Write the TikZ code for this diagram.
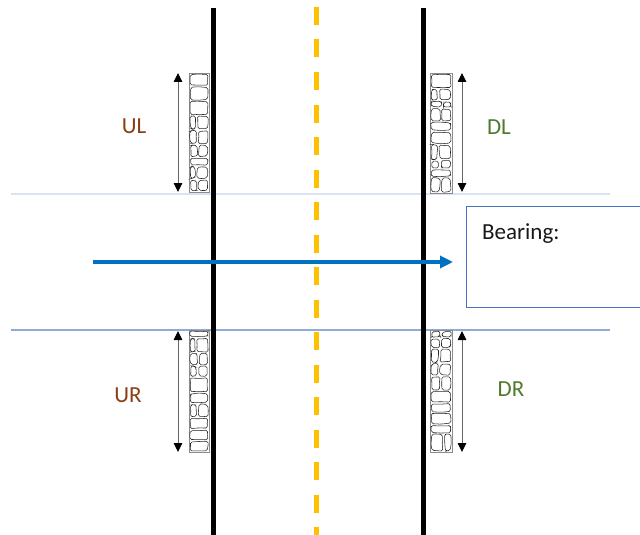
\documentclass[tikz,border=0pt]{standalone}
\usepackage{fontspec}
\setmainfont{Carlito}
\usetikzlibrary{arrows.meta}

\definecolor{roadyellow}{HTML}{FFC000}
\definecolor{flowblue}{HTML}{0070C0}
\definecolor{boxblue}{HTML}{4472C4}
\definecolor{paleblue}{HTML}{DAE3F3}
\definecolor{midblue}{HTML}{8FAADC}
\definecolor{upbrown}{HTML}{8B3E12}
\definecolor{downgreen}{HTML}{4F7A2E}

\tikzset{
  roadline/.style={line width=4.5pt, black},
  centreline/.style={line width=4.5pt, roadyellow, dash pattern=on 18pt off 14.5pt},
  paleguide/.style={line width=2pt, paleblue},
  midguide/.style={line width=1.4pt, midblue},
  flowarrow/.style={line width=3.2pt, flowblue, -{Triangle[length=13pt,width=12pt]}},
  spanarrow/.style={line width=0.9pt, draw=black!60,
    {Triangle[length=9pt,width=8.5pt,color=black]}-{Triangle[length=9pt,width=8.5pt,color=black]}},
  stripframe/.style={draw=black!45, line width=0.7pt, fill=white, inner sep=0pt},
  stone/.style={draw=black!85, line width=0.55pt, rounded corners=1.6pt},
  sidelabel/.style={font=\fontsize{23}{27}\selectfont, anchor=base, inner sep=0pt},
  bearingbox/.style={draw=boxblue, line width=1.4pt, fill=white},
}

% one irregular stone inside the cell (#1,#2)-(#3,#4)
\newcommand\stoneblock[4]{%
  \pgfmathsetmacro\sjA{#1+0.5+1.3*rnd}\pgfmathsetmacro\sjB{#2+0.5+1.3*rnd}%
  \pgfmathsetmacro\sjC{#3-0.5-1.3*rnd}\pgfmathsetmacro\sjD{#2+0.5+1.3*rnd}%
  \pgfmathsetmacro\sjE{#3-0.5-1.3*rnd}\pgfmathsetmacro\sjF{#4-0.5-1.3*rnd}%
  \pgfmathsetmacro\sjG{#1+0.5+1.3*rnd}\pgfmathsetmacro\sjH{#4-0.5-1.3*rnd}%
  \pgfmathsetmacro\sjM{(#2+#4)/2+(rnd-0.5)*4}%
  \pgfmathsetmacro\sjN{(#1+#3)/2+(rnd-0.5)*3}%
  \pgfmathsetmacro\sjT{#2+0.3+1.2*rnd}\pgfmathsetmacro\sjU{#4-0.3-1.2*rnd}%
  \pgfmathsetmacro\sjL{#1+0.3+1.6*rnd}\pgfmathsetmacro\sjR{#3-0.3-1.6*rnd}%
  \draw[stone] (\sjA,\sjB) -- (\sjN,\sjT) -- (\sjC,\sjD) -- (\sjR,\sjM) -- (\sjE,\sjF)
    -- (\sjN,\sjU) -- (\sjG,\sjH) -- (\sjL,\sjM) -- cycle;%
}

% a strip of stone masonry: name, x0, y0, x1, y1
\newcommand\stonestrip[5]{%
  \pgfmathsetmacro\stripw{#4-#2}\pgfmathsetmacro\striph{#5-#3}%
  \node[stripframe, minimum width=\stripw pt, minimum height=\striph pt]
    (#1) at ({(#2+#4)/2},{(#3+#5)/2}) {};
  \pgfmathsetmacro\rowtop{#3+0.3}\xdef\rowy{\rowtop}%
  \foreach \k in {1,...,30}{%
    \pgfmathtruncatemacro\rowmore{\rowy < #5-4 ? 1 : 0}%
    \ifnum\rowmore=1
      \pgfmathsetmacro\rowh{7+9*rnd}%
      \pgfmathsetmacro\rown{min(\rowy+\rowh,#5-0.3)}%
      \pgfmathsetmacro\rown{(#5-0.3-\rown<6) ? #5-0.3 : \rown}%
      \pgfmathtruncatemacro\rowsplit{rnd<0.5 ? 1 : 0}%
      \ifnum\rowsplit=1
        \pgfmathsetmacro\splitx{#2+(#4-#2)*(0.35+0.3*rnd)}%
        \stoneblock{#2+0.3}{\rowy}{\splitx}{\rown}%
        \stoneblock{\splitx}{\rowy}{#4-0.3}{\rown}%
      \else
        \stoneblock{#2+0.3}{\rowy}{#4-0.3}{\rown}%
      \fi
      \xdef\rowy{\rown}%
    \fi
  }%
}

\begin{document}
\begin{tikzpicture}[x=1pt, y=-1pt]
  \pgfmathsetseed{11}
  \clip (0,0) rectangle (640,535);
  \useasboundingbox (0,0) rectangle (640,535);

  % guide lines across the road
  \coordinate (paleL) at (11,194);  \coordinate (paleR) at (610,194);
  \coordinate (midL)  at (11,330);  \coordinate (midR)  at (610,330);
  \draw[paleguide] (paleL) -- (paleR);
  \draw[midguide]  (midL) -- (midR);

  % masonry strips along the edges
  \stonestrip{stripUL}{189}{73}{209}{192}
  \stonestrip{stripDL}{430}{73}{452}{193}
  \stonestrip{stripUR}{189}{330}{209}{452}
  \stonestrip{stripDR}{430}{330}{452}{452}

  % extent arrows beside the strips
  \coordinate (ulTop) at (178,73);  \coordinate (ulBot) at (178,192);
  \coordinate (dlTop) at (462,73);  \coordinate (dlBot) at (462,192);
  \coordinate (urTop) at (178,331); \coordinate (urBot) at (178,452);
  \coordinate (drTop) at (462,331); \coordinate (drBot) at (462,452);
  \draw[spanarrow] (ulTop) -- (ulBot);
  \draw[spanarrow] (dlTop) -- (dlBot);
  \draw[spanarrow] (urTop) -- (urBot);
  \draw[spanarrow] (drTop) -- (drBot);

  % road edges and centre line
  \coordinate (edgeLtop) at (213.5,8);  \coordinate (edgeLbot) at (213.5,540);
  \coordinate (edgeRtop) at (423.5,8);  \coordinate (edgeRbot) at (423.5,540);
  \coordinate (centreTop) at (316.5,7); \coordinate (centreBot) at (316.5,540);
  \draw[roadline] (edgeLtop) -- (edgeLbot);
  \draw[roadline] (edgeRtop) -- (edgeRbot);
  \draw[centreline] (centreTop) -- (centreBot);

  % bearing box
  \node[bearingbox, anchor=north west, minimum width=190pt, minimum height=101pt]
    (bearing) at (466,206) {};
  \node[font=\fontsize{23}{27}\selectfont, anchor=base west, inner sep=0pt, text=black!90]
    (bearingtext) at (482,239) {Bearing:};

  % direction of travel
  \coordinate (flowStart) at (93,262);
  \coordinate (flowEnd) at (453,262);
  \draw[flowarrow] (flowStart) -- (flowEnd);

  % labels
  \node[sidelabel, text=upbrown]   (labUL) at (134,133) {UL};
  \node[sidelabel, text=downgreen] (labDL) at (499,134) {DL};
  \node[sidelabel, text=upbrown]   (labUR) at (128,402) {UR};
  \node[sidelabel, text=downgreen] (labDR) at (511,396) {DR};
\end{tikzpicture}
\end{document}
